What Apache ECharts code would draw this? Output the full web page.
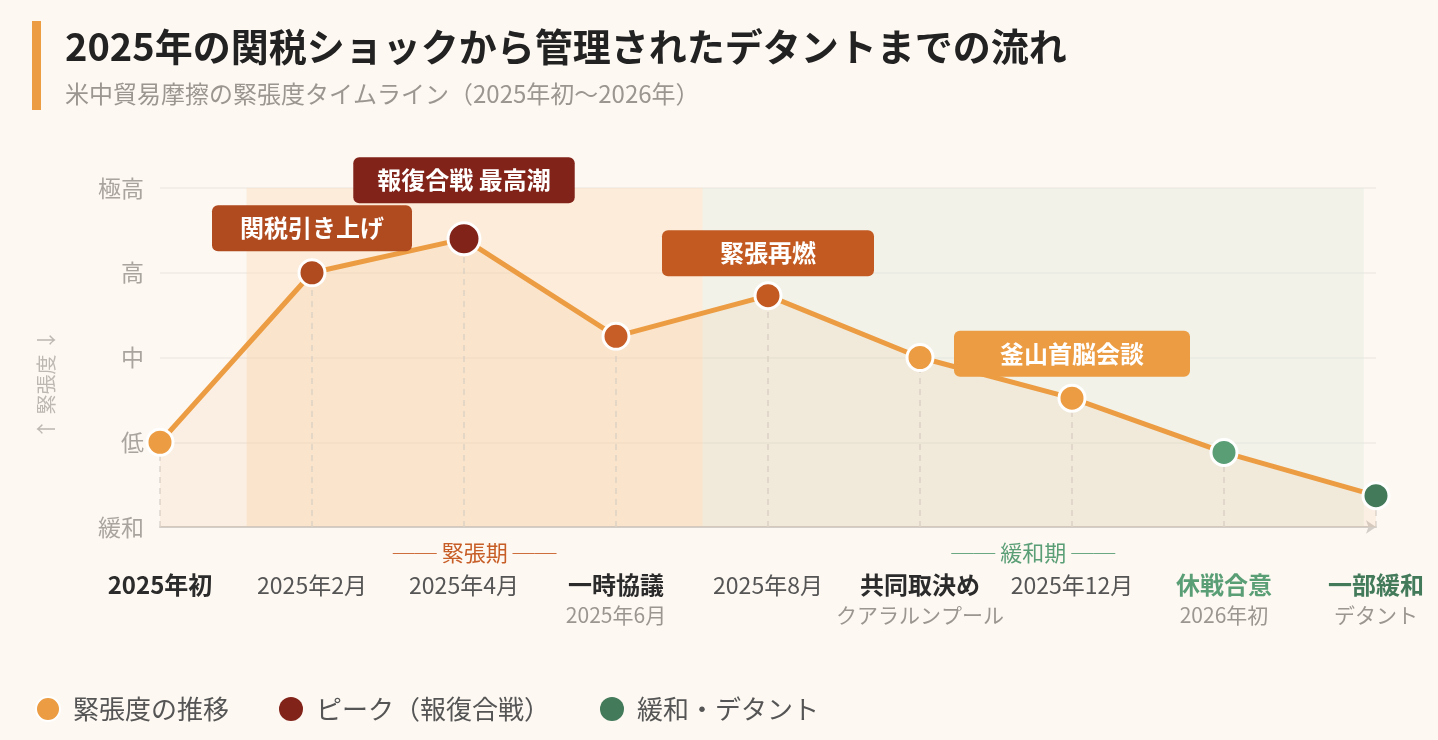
<!DOCTYPE html>
<html>
<head>
<meta charset="utf-8">
<script src="https://cdn.jsdelivr.net/npm/echarts@6/dist/echarts.min.js"></script>
<style>
  html, body { margin: 0; padding: 0; background: #fdf8f2; }
  #chart { width: 1438px; height: 740px; }
</style>
</head>
<body>
<div id="chart"></div>
<script>
// data
const tension = [1.0, 3.0, 3.4, 2.25, 2.73, 2.0, 1.52, 0.88, 0.37];
const yLabels = ["緩和", "低", "中", "高", "極高"];
const xMain = ["2025年初", "2025年2月", "2025年4月", "一時協議", "2025年8月", "共同取決め", "2025年12月", "休戦合意", "一部緩和"];
const xSub = ["", "", "", "2025年6月", "", "クアラルンプール", "", "2026年初", "デタント"];
const xKind = ["bold", "date", "date", "bold", "date", "bold", "date", "green", "dgreen"];
const events = ["", "関税引き上げ", "報復合戦 最高潮", "", "緊張再燃", "", "釜山首脳会談", "", ""];
const periods = [
  { name: "緊張期", from: 0.57, to: 3.57 },
  { name: "緩和期", from: 3.57, to: 7.92 }
];

// styles
const FONT = "Noto Sans CJK JP";
const pointColors = ["#ec9c42", "#b04a1f", "#82231a", "#c85e27", "#c25a22", "#ec9c42", "#ec9c42", "#5a9e76", "#427a5a"];
const eventColors = ["", "#b04a1f", "#82231a", "", "#c25a22", "", "#ec9c42", "", ""];
const eventPad = [0, 28, 24, 0, 58, 0, 46, 0, 0];
const eventGap = [0, 7, 18, 0, 5, 0, 7, 0, 0];
const periodStyles = [
  { area: "rgba(251, 224, 192, 0.5)", text: "#c85e27" },
  { area: "rgba(222, 232, 218, 0.35)", text: "#5a9e76" }
];

let chart = echarts.init(document.getElementById("chart"));

// build line points
let lineData = [];
for (let i = 0; i < tension.length; i++) {
  let item = {
    value: [i, tension[i]],
    symbolSize: i === 2 ? 32 : 26,
    itemStyle: { color: pointColors[i] }
  };
  if (events[i]) {
    item.label = {
      show: true,
      position: "top",
      distance: eventGap[i],
      formatter: events[i],
      color: "#fff",
      fontSize: 24,
      fontWeight: "bold",
      fontFamily: FONT,
      backgroundColor: eventColors[i],
      borderRadius: 6,
      padding: [11, eventPad[i]],
      lineHeight: 24
    };
  }
  lineData.push(item);
}

// dashed drop lines
let dropLines = tension.map((v, i) => [{ coord: [i, 0] }, { coord: [i, v] }]);

// period areas
let areas = periods.map((p, k) => [
  {
    xAxis: p.from,
    itemStyle: { color: periodStyles[k].area },
    label: {
      show: true,
      position: "bottom",
      distance: 15,
      formatter: "{l|──} " + p.name + " {l|──}",
      color: periodStyles[k].text,
      fontSize: 22,
      fontFamily: FONT,
      rich: {
        l: { fontSize: 22, fontFamily: FONT, color: periodStyles[k].text }
      }
    }
  },
  { xAxis: p.to }
]);

let option = {
  backgroundColor: "#fdf8f2",
  textStyle: { fontFamily: FONT },
  title: {
    text: "2025年の関税ショックから管理されたデタントまでの流れ",
    subtext: "米中貿易摩擦の緊張度タイムライン（2025年初〜2026年）",
    left: 60,
    top: 23,
    itemGap: 16,
    textStyle: { fontSize: 38, fontWeight: "bold", color: "#222", fontFamily: FONT },
    subtextStyle: { fontSize: 24, color: "#9b9690", fontFamily: FONT }
  },
  graphic: [
    { type: "rect", left: 32, top: 21, shape: { width: 9, height: 89 }, style: { fill: "#ec9c42" } }
  ],
  legend: {
    left: 30,
    top: 691,
    icon: "circle",
    itemWidth: 24,
    itemHeight: 24,
    itemGap: 50,
    textStyle: { fontSize: 26, color: "#555", fontFamily: FONT, padding: [0, 0, 0, 8] },
    data: ["緊張度の推移", "ピーク（報復合戦）", "緩和・デタント"]
  },
  grid: { left: 160, right: 62, top: 188, bottom: 213 },
  xAxis: {
    type: "value",
    min: 0,
    max: 8,
    interval: 1,
    axisLine: {
      show: true,
      lineStyle: { color: "#d3cec8", width: 2 },
      symbol: ["none", "arrow"],
      symbolSize: [10, 10]
    },
    axisTick: { show: false },
    splitLine: { show: false },
    axisLabel: {
      margin: 43,
      formatter: function (v) {
        let i = Math.round(v);
        let s = "{" + xKind[i] + "|" + xMain[i] + "}";
        if (xSub[i]) s += "\n{sub|" + xSub[i] + "}";
        return s;
      },
      rich: {
        bold: { fontSize: 24, fontWeight: "bold", color: "#2b2b2b", lineHeight: 30, fontFamily: FONT },
        date: { fontSize: 23, color: "#555", lineHeight: 30, fontFamily: FONT },
        green: { fontSize: 24, fontWeight: "bold", color: "#5a9e76", lineHeight: 30, fontFamily: FONT },
        dgreen: { fontSize: 24, fontWeight: "bold", color: "#427a5a", lineHeight: 30, fontFamily: FONT },
        sub: { fontSize: 21, color: "#9b9690", lineHeight: 30, fontFamily: FONT }
      }
    }
  },
  yAxis: {
    type: "value",
    min: 0,
    max: 4,
    interval: 1,
    name: "↑ 緊張度 ↓",
    nameLocation: "middle",
    nameRotate: 90,
    nameGap: 104,
    nameTextStyle: { fontSize: 20, color: "#bdb8b2", fontFamily: FONT, padding: [0, 54, 0, 0] },
    axisLine: { show: false },
    axisTick: { show: false },
    axisLabel: {
      margin: 16,
      fontSize: 23,
      color: "#a9a49e",
      formatter: (v) => yLabels[v] || ""
    },
    splitLine: { lineStyle: { color: "#efebe5", width: 1.5 } }
  },
  series: [
    {
      name: "緊張度の推移",
      type: "line",
      data: lineData,
      symbol: "circle",
      color: "#ec9c42",
      lineStyle: { color: "#ec9c42", width: 5 },
      itemStyle: { borderColor: "#fff", borderWidth: 3 },
      areaStyle: { color: "rgba(236, 156, 66, 0.12)" },
      z: 3,
      markLine: {
        silent: true,
        z: 1,
        symbol: ["none", "none"],
        label: { show: false },
        lineStyle: { color: "#dcd7d1", type: [6, 5], width: 1.5 },
        data: dropLines
      },
      markArea: {
        silent: true,
        z: 0,
        data: areas
      }
    },
    {
      name: "ピーク（報復合戦）",
      type: "scatter",
      data: [],
      itemStyle: { color: "#82231a", opacity: 1 }
    },
    {
      name: "緩和・デタント",
      type: "scatter",
      data: [],
      itemStyle: { color: "#427a5a", opacity: 1 }
    }
  ]
};

if (option && typeof option === "object") {
  chart.setOption(option);
}
</script>
</body>
</html>
